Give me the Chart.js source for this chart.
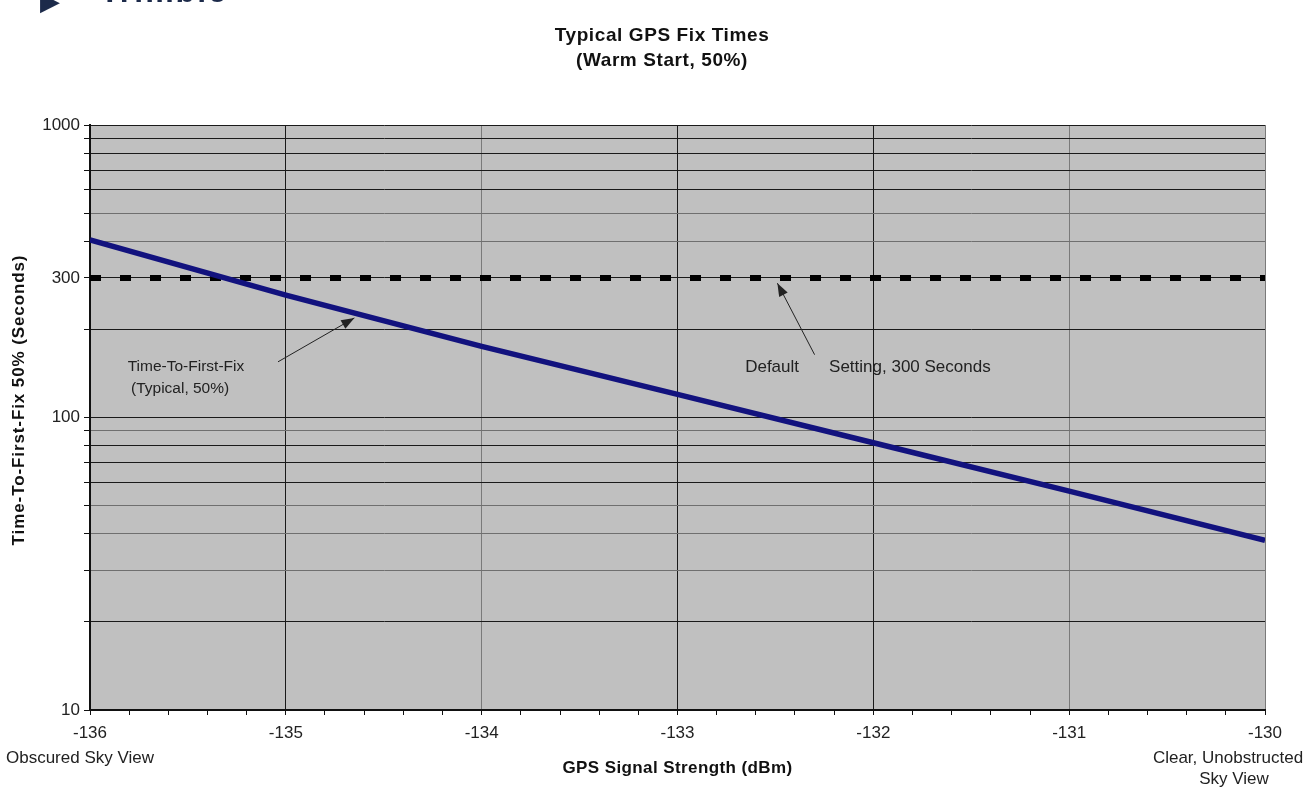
<!DOCTYPE html>
<html>
<head>
<meta charset="utf-8">
<script src="https://cdn.jsdelivr.net/npm/chart.js@4"></script>
<style>
  body { margin: 0; background: #fff; overflow: hidden; }
  #wrap { position: relative; width: 1315px; height: 789px; }
  #logo { position: absolute; left: 100px; top: -27px; font: bold 32px "Liberation Sans", Arial, sans-serif; color: #1c2a4a; letter-spacing: 2px; }
  #mark { position: absolute; left: 40px; top: -14px; font: 26px "DejaVu Sans", sans-serif; color: #1c2a4a; }
</style>
</head>
<body>
<div id="wrap">
  <canvas id="chart"></canvas>
  <div id="mark">&#9654;</div>
  <div id="logo">Trimble</div>
</div>
<script>
// GPS signal strength (dBm)
const signalDbm = [-136, -135, -134, -133, -132, -131, -130];
// typical time-to-first-fix, 50% (seconds)
const ttffTypical = [405, 262, 175, 120, 82, 56, 38];
// default setting (seconds)
const defaultSetting = [300, 300, 300, 300, 300, 300, 300];

const yGridValues = [10, 20, 30, 40, 50, 60, 70, 80, 90, 100, 200, 300, 400, 500, 600, 700, 800, 900, 1000];
const yLabelValues = [10, 100, 300, 1000];
const yLightLines = [30, 40, 50, 90, 400, 500];
const xLightLines = [-134, -131, -130];

const FONT = '"Liberation Sans", Arial, sans-serif';
const chart = document.querySelector('#chart');

const textPlugin = {
    id: 'textPlugin',
    afterDatasetsDraw(c) {
        const ctx = c.ctx;
        const xs = c.scales.x;
        const ys = c.scales.y;
        const px = v => xs.getPixelForValue(v);
        const py = v => ys.getPixelForValue(v);

        ctx.save();
        ctx.fillStyle = '#222';
        ctx.strokeStyle = '#222';
        ctx.font = '15.5px ' + FONT;
        ctx.textAlign = 'center';
        ctx.textBaseline = 'middle';
        ctx.fillText('Time-To-First-Fix', px(-135.51), py(149));
        ctx.fillText('(Typical, 50%)', px(-135.54), py(125));
        ctx.font = '17px ' + FONT;
        ctx.fillText('Default', px(-132.517), py(148));
        ctx.textAlign = 'left';
        ctx.fillText('Setting, 300 Seconds', px(-132.226), py(148));

        arrow(ctx, px(-135.04), py(155), px(-134.65), py(219));
        arrow(ctx, px(-132.30), py(164), px(-132.49), py(288));
        ctx.restore();
    },
    afterDraw(c) {
        const ctx = c.ctx;
        const area = c.chartArea;
        const xs = c.scales.x;
        ctx.save();
        ctx.fillStyle = '#111';
        ctx.textAlign = 'center';
        ctx.textBaseline = 'middle';
        ctx.font = 'bold 19px ' + FONT;
        ctx.letterSpacing = '0.6px';
        ctx.fillText('Typical GPS Fix Times', 662, 36);
        ctx.fillText('(Warm Start, 50%)', 662, 61);

        ctx.font = 'bold 17px ' + FONT;
        ctx.letterSpacing = '0.4px';
        ctx.fillText('GPS Signal Strength (dBm)', (area.left + area.right) / 2, 768);
        ctx.save();
        ctx.translate(19, 400);
        ctx.rotate(-Math.PI / 2);
        ctx.letterSpacing = '0.9px';
        ctx.fillText('Time-To-First-Fix 50% (Seconds)', 0, 0);
        ctx.restore();

        ctx.letterSpacing = '0px';
        ctx.fillStyle = '#222';
        ctx.font = '17px ' + FONT;
        ctx.fillText('Obscured Sky View', 80, 758);
        ctx.fillText('Clear, Unobstructed', xs.getPixelForValue(-130) - 37, 758);
        ctx.fillText('Sky View', xs.getPixelForValue(-130) - 31, 779);
        ctx.restore();
    }
};

function arrow(ctx, x1, y1, x2, y2) {
    const a = Math.atan2(y2 - y1, x2 - x1);
    ctx.lineWidth = 1;
    ctx.beginPath();
    ctx.moveTo(x1, y1);
    ctx.lineTo(x2, y2);
    ctx.stroke();
    ctx.beginPath();
    ctx.moveTo(x2, y2);
    ctx.lineTo(x2 - 14 * Math.cos(a - 0.35), y2 - 14 * Math.sin(a - 0.35));
    ctx.lineTo(x2 - 14 * Math.cos(a + 0.35), y2 - 14 * Math.sin(a + 0.35));
    ctx.closePath();
    ctx.fill();
}

const bgPlugin = {
    id: 'bgPlugin',
    beforeDraw(c) {
        const a = c.chartArea;
        c.ctx.save();
        c.ctx.fillStyle = '#c0c0c0';
        c.ctx.fillRect(a.left, a.top, a.right - a.left, a.bottom - a.top);
        c.ctx.restore();
    }
};

new Chart(chart, {
    type: 'line',
    data: {
        datasets: [{
            label: 'Time-To-First-Fix (Typical, 50%)',
            data: signalDbm.map((x, i) => ({ x: x, y: ttffTypical[i] })),
            borderColor: '#12127e',
            borderWidth: 5.5,
            pointRadius: 0,
            tension: 0
        }, {
            label: 'Default Setting, 300 Seconds',
            data: signalDbm.map((x, i) => ({ x: x, y: defaultSetting[i] })),
            borderColor: '#000',
            borderWidth: 6,
            borderDash: [11, 19],
            pointRadius: 0
        }]
    },
    options: {
        responsive: true,
        maintainAspectRatio: false,
        animation: false,
        layout: { padding: { top: 125, right: 50, left: 0, bottom: 0 } },
        plugins: {
            legend: { display: false },
            tooltip: { enabled: false }
        },
        scales: {
            x: {
                type: 'linear',
                min: -136,
                max: -130,
                afterBuildTicks: scale => {
                    const t = [];
                    for (let i = 0; i <= 30; i++) t.push({ value: -136 + i * 0.2 });
                    scale.ticks = t;
                },
                afterFit: scale => {
                    scale.height = 79;
                    scale.paddingLeft = 0;
                    scale.paddingRight = 0;
                },
                border: { color: '#111', width: 2 },
                grid: {
                    color: ctx => {
                        const v = Math.round(ctx.tick.value * 10) / 10;
                        if (!Number.isInteger(v)) return 'rgba(0,0,0,0)';
                        return xLightLines.includes(v) ? '#7a7a7a' : '#1a1a1a';
                    },
                    tickColor: '#111',
                    tickLength: 5
                },
                ticks: {
                    autoSkip: false,
                    maxRotation: 0,
                    padding: 8,
                    color: '#222',
                    font: { family: FONT, size: 17 },
                    callback: v => {
                        const r = Math.round(v * 10) / 10;
                        return Number.isInteger(r) ? String(r) : '';
                    }
                }
            },
            y: {
                type: 'logarithmic',
                min: 10,
                max: 1000,
                afterBuildTicks: scale => {
                    scale.ticks = yGridValues.map(v => ({ value: v }));
                },
                afterFit: scale => { scale.width = 90; },
                border: { color: '#111', width: 2 },
                grid: {
                    color: ctx => yLightLines.includes(ctx.tick.value) ? '#6f6f6f' : '#1a1a1a',
                    tickColor: '#111',
                    tickLength: 6
                },
                ticks: {
                    autoSkip: false,
                    padding: 4,
                    color: '#222',
                    font: { family: FONT, size: 17 },
                    callback: v => yLabelValues.includes(v) ? String(v) : ''
                }
            }
        }
    },
    plugins: [bgPlugin, textPlugin]
});
</script>
</body>
</html>
